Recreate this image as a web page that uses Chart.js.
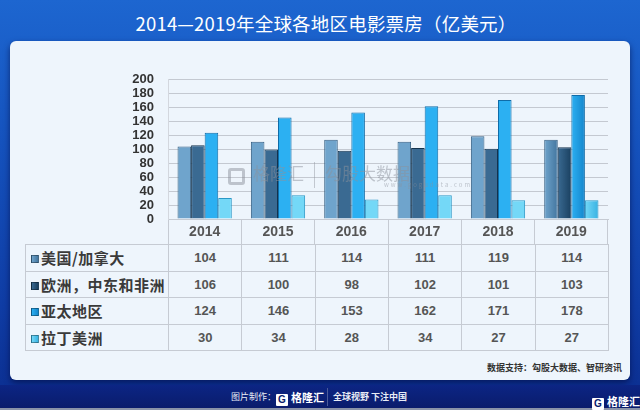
<!DOCTYPE html>
<html>
<head>
<meta charset="utf-8">
<script src="https://cdn.jsdelivr.net/npm/chart.js@4/dist/chart.umd.min.js"></script>
<style>
  html, body { margin: 0; padding: 0; }
  body {
    width: 640px; height: 410px; position: relative; overflow: hidden;
    font-family: 'Noto Sans CJK SC', 'Liberation Sans', sans-serif;
    background: linear-gradient(180deg, #1d66d0 0%, #1552bd 35%, #0f3ca4 75%, #0b2d8e 100%);
  }
  #title {
    position: absolute; left: 0; top: 9px; width: 652px; text-align: center;
    color: #fff; font-size: 18.5px; line-height: 28px; letter-spacing: 0.2px;
  }
  #panel {
    position: absolute; left: 10px; top: 41px; width: 620px; height: 339px;
    background: #eef5fc; border-radius: 6px;
    box-shadow: 0 3px 6px rgba(0, 10, 60, .6);
  }
  #chartBox { position: absolute; left: 25px; top: 58px; width: 590px; height: 186px; }
  #wm {
    position: absolute; left: 228px; top: 160px; color: rgba(140, 146, 156, .5);
    font-size: 17px; white-space: nowrap; pointer-events: none;
  }
  #wm .g { display: inline-block; width: 17px; height: 17px; border: 3px solid rgba(140,146,156,.5);
           border-radius: 3px; vertical-align: -5px; margin-right: 8px; box-sizing: border-box; }
  #wm .sep { display: inline-block; width: 1px; height: 26px; background: rgba(140,146,156,.45);
             vertical-align: -8px; margin: 0 10px; }
  #wm small { position: absolute; font-size: 6px; letter-spacing: 2px; top: 20px; }
  #tbl {
    position: absolute; top: 244px; border-collapse: collapse; table-layout: fixed;
  }
  #tbl td {
    border: 1px solid #c6cbd3; height: 25.5px; padding: 0; text-align: center;
    font-family: 'Liberation Sans', sans-serif; font-weight: bold; font-size: 13px; color: #555;
  }
  #tbl td.name {
    text-align: left; padding-left: 5px; white-space: nowrap; overflow: hidden;
    font-family: 'Noto Sans CJK SC', sans-serif; font-size: 15px; color: #3a3a3a; letter-spacing: 0.5px;
  }
  #tbl .sq { display: inline-block; width: 8px; height: 8px; margin-right: 2px; vertical-align: 1px;
             border: 1px solid rgba(0,0,0,.35); box-sizing: border-box; }
  #source {
    position: absolute; right: 18px; top: 361px; font-size: 9px; font-weight: bold; color: #333;
  }
  #bar {
    position: absolute; left: 0; top: 385px; width: 640px; height: 25px;
    background: linear-gradient(180deg, #0c2584 0%, #0a1c6c 100%);
    border-bottom: 2px solid #8a93a8; box-sizing: border-box;
  }
  .ft { position: absolute; color: #e8ecf5; font-size: 9px; white-space: nowrap; }
  .logo { font-weight: bold; font-size: 11px; color: #fff; }
  .logo .gb { display: inline-block; width: 12px; height: 12px; background: #fff; color: #0a1c6c;
              font-size: 10px; line-height: 12px; text-align: center; font-family: 'Liberation Sans';
              margin-right: 3px; vertical-align: -1px; border-radius: 1px; }
</style>
</head>
<body>
<div id="title">2014—2019年全球各地区电影票房（亿美元）</div>
<div id="panel"></div>
<div id="chartBox"><canvas id="chart"></canvas></div>
<div id="wm"><span class="g"></span>格隆汇<span class="sep"></span>勾股大数据<small style="left:156px">www.gogudata.com</small></div>
<table id="tbl"></table>
<div id="source">数据支持：勾股大数据、智研资讯</div>
<div id="bar">
  <span class="ft" style="left:231px;top:5px">图片制作：</span>
  <span class="ft logo" style="left:276px;top:4px"><span class="gb">G</span>格隆汇</span>
  <span style="position:absolute;left:327px;top:3px;width:1px;height:18px;background:#4a5a9a"></span>
  <span class="ft" style="left:333px;top:5px;font-weight:bold">全球视野 下注中国</span>
  <span class="ft logo" style="left:592px;top:8px"><span class="gb">G</span>格隆汇</span>
</div>

<script>
// 年份（x 轴）
const YEARS = ['2014', '2015', '2016', '2017', '2018', '2019'];
// 各地区票房（亿美元）
const REGIONS = ['美国/加拿大', '欧洲，中东和非洲', '亚太地区', '拉丁美洲'];
const US_CANADA = [104, 111, 114, 111, 119, 114];
const EMEA      = [106, 100, 98, 102, 101, 103];
const APAC      = [124, 146, 153, 162, 171, 178];
const LATAM     = [30, 34, 28, 34, 27, 27];
const Y_TICKS = [0, 20, 40, 60, 80, 100, 120, 140, 160, 180, 200];

// 柱子的渐变色（左亮右暗）
const LIGHT  = ['#6fa4cc', '#3a6a92', '#2cb0f2', '#74d8f7'];
const DARK   = ['#43769f', '#1a4060', '#1486cc', '#38b2e2'];
const BORDER = ['#355f82', '#14334d', '#0f6ca8', '#2a98c6'];

const SERIES = [US_CANADA, EMEA, APAC, LATAM];

// 每根柱子画之前换成横向渐变
const barShade = {
  id: 'barShade',
  beforeDatasetsDraw(chart) {
    const ctx = chart.ctx;
    chart.data.datasets.forEach((ds, i) => {
      chart.getDatasetMeta(i).data.forEach(bar => {
        const g = ctx.createLinearGradient(bar.x - bar.width / 2, 0, bar.x + bar.width / 2, 0);
        g.addColorStop(0, LIGHT[i]);
        g.addColorStop(1, DARK[i]);
        bar.options.backgroundColor = g;
      });
    });
  },
};

const chart = new Chart(document.getElementById('chart'), {
  type: 'bar',
  data: {
    labels: YEARS,
    datasets: SERIES.map((vals, i) => ({
      label: REGIONS[i],
      data: vals,
      backgroundColor: DARK[i],
      borderColor: BORDER[i],
      borderWidth: 1,
      categoryPercentage: 0.74,
      barPercentage: 1.0,
    })),
  },
  options: {
    responsive: true,
    maintainAspectRatio: false,
    animation: false,
    layout: { padding: { top: 11, right: 7, left: 0, bottom: 0 } },
    plugins: { legend: { display: false }, tooltip: { enabled: false } },
    scales: {
      x: {
        offset: true,
        grid: { offset: true, drawOnChartArea: false, drawTicks: true, tickLength: 25, color: '#c6cbd3' },
        border: { display: true, color: '#c6cbd3' },
        ticks: { color: '#555', padding: -20, font: { family: 'Liberation Sans', size: 14, weight: 'bold' } },
        afterFit: s => { s.height = 25; },
      },
      y: {
        min: 0, max: 200,
        afterBuildTicks: s => { s.ticks = Y_TICKS.map(v => ({ value: v })); },
        grid: { color: '#c4c9d1', drawTicks: false },
        border: { display: true, color: '#d3d7de' },
        ticks: { autoSkip: false, color: '#333', padding: 14,
                 font: { family: 'Liberation Sans', size: 13, weight: 'bold' } },
        afterFit: s => { s.width = 143; },
      },
    },
  },
  plugins: [barShade],
});

// 数据表：列宽跟随 x 轴的类别宽度
function buildTable() {
  const xs = chart.scales.x;
  const box = document.getElementById('chartBox');
  const colW = xs.width / YEARS.length;
  const tbl = document.getElementById('tbl');
  tbl.style.left = box.offsetLeft + 'px';
  let html = '<colgroup><col style="width:' + xs.left + 'px">';
  YEARS.forEach(() => { html += '<col style="width:' + colW + 'px">'; });
  html += '</colgroup>';
  REGIONS.forEach((name, i) => {
    html += '<tr><td class="name"><span class="sq" style="background:linear-gradient(90deg,' +
      LIGHT[i] + ',' + DARK[i] + ')"></span>' + name + '</td>';
    SERIES[i].forEach(v => { html += '<td>' + v + '</td>'; });
    html += '</tr>';
  });
  tbl.innerHTML = html;
  tbl.style.width = (xs.left + xs.width) + 'px';
}
buildTable();
</script>
</body>
</html>
